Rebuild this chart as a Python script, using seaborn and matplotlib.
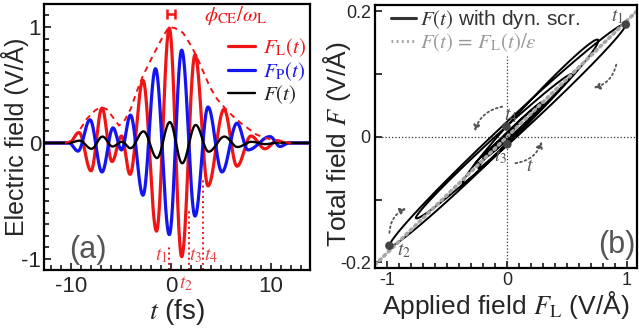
import numpy as np
import pandas as pd
import matplotlib
matplotlib.use('Agg')
import matplotlib.pyplot as plt
import seaborn as sns
from matplotlib.ticker import MultipleLocator
from matplotlib.lines import Line2D

# ---- data: extrema of each field (time in fs, field in V/Å)
t_laser = [-12.7, -10.2, -9.2, -8.0, -6.9, -5.9, -4.95, -4.1, -2.8, -1.45, -0.17,
           1.07, 2.4, 3.7, 5.3, 6.6, 8.0, 9.4, 10.6, 11.5, 13.9]
f_laser = [0, 0, 0.09, -0.24, 0.30, -0.16, 0.06, -0.27, 0.54, -0.76, 0.99,
           -0.98, 0.76, -0.37, 0.29, -0.20, 0.06, -0.05, 0.02, 0, 0]

t_pol = [-12.7, -10.2, -9.3, -8.1, -6.9, -5.8, -4.95, -4.05, -2.8, -1.55, -0.17,
         1.07, 2.4, 3.7, 5.1, 6.6, 7.7, 9.9, 10.9, 11.8, 13.9]
f_pol = [0, 0, -0.07, 0.20, -0.25, 0.13, -0.06, 0.24, -0.45, 0.64, -0.79,
         0.80, -0.63, 0.31, -0.25, 0.17, -0.06, 0.055, -0.03, 0, 0]

t_tot = [-12.7, -10.2, -9.15, -7.95, -6.85, -5.85, -4.9, -4.05, -2.75, -1.4, -0.12,
         1.12, 2.47, 3.76, 5.35, 6.65, 8.05, 9.45, 10.65, 11.6, 13.9]
f_tot = [0, 0, 0.02, -0.05, 0.055, -0.03, 0.01, -0.045, 0.10, -0.13, 0.18,
         -0.175, 0.155, -0.075, 0.055, -0.035, 0.01, -0.01, 0.004, 0, 0]

# envelope (dashed)
t_env = [-10.6, -10.2, -9.8, -9.0, -8.4, -7.6, -7.0, -6.4, -5.8, -5.2, -4.6, -4.0,
         -3.4, -2.8, -2.0, -1.4, -0.8, -0.2, 0.4, 1.2, 2.0, 2.6, 3.2, 3.9, 4.6,
         5.4, 6.2, 7.0, 7.8, 8.6, 9.4, 10.2, 11.0, 12.0]
f_env = [0, 0.01, 0.04, 0.13, 0.21, 0.28, 0.31, 0.29, 0.22, 0.15, 0.20, 0.30,
         0.45, 0.58, 0.72, 0.82, 0.92, 1.0, 0.99, 0.95, 0.84, 0.74, 0.62, 0.48,
         0.38, 0.30, 0.23, 0.17, 0.12, 0.07, 0.045, 0.025, 0.01, 0]

t_marks = [-0.17, 1.07, 1.79, 3.2]       # t1..t4
eps = 5.4                                 # static screening, F = F_L / eps

red = '#f01414'
blue = '#1414f0'


def through_extrema(t_ext, v_ext, t):
    # half-cosine strokes between successive extrema
    t_ext = np.asarray(t_ext, float)
    v_ext = np.asarray(v_ext, float)
    i = np.clip(np.searchsorted(t_ext, t, side='right') - 1, 0, len(t_ext) - 2)
    p = (t - t_ext[i]) / (t_ext[i + 1] - t_ext[i])
    v0, v1 = v_ext[i], v_ext[i + 1]
    return (v0 + v1) / 2 + (v0 - v1) / 2 * np.cos(np.pi * p)


grid = np.linspace(-12.7, 13.9, 3000)
df = pd.DataFrame({
    't': grid,
    'FL': through_extrema(t_laser, f_laser, grid),
    'FP': through_extrema(t_pol, f_pol, grid),
    'F': through_extrema(t_tot, f_tot, grid),
})
env = pd.DataFrame({'t': t_env, 'E': f_env})

sns.set_theme(style='ticks')
plt.rcParams['font.family'] = ['Liberation Sans', 'DejaVu Sans']
plt.rcParams['mathtext.fontset'] = 'stix'
plt.rcParams['axes.unicode_minus'] = False
plt.rcParams['axes.linewidth'] = 1.6
plt.rcParams['axes.edgecolor'] = 'black'

fig = plt.figure(figsize=(6.39, 3.31), dpi=100)
ax1 = fig.add_axes([44 / 639, 61 / 331, 266 / 639, 266 / 331])
ax2 = fig.add_axes([375 / 639, 63 / 331, 262 / 639, 263 / 331])

# ================= panel (a)
sns.lineplot(data=df, x='t', y='FL', ax=ax1, color=red, lw=2.3, sort=False,
             estimator=None, label=r'$F_{\rm L}(t)$')
sns.lineplot(data=df, x='t', y='FP', ax=ax1, color=blue, lw=2.3, sort=False,
             estimator=None, label=r'$F_{\rm P}(t)$')
sns.lineplot(data=df, x='t', y='F', ax=ax1, color='black', lw=1.7, sort=False,
             estimator=None, label=r'$F(t)$')
sns.lineplot(data=env, x='t', y='E', ax=ax1, color=red, lw=1.4, sort=False,
             estimator=None, legend=False)
ax1.lines[-1].set_linestyle((0, (3, 2.5)))

ax1.set_xlim(-12.7, 13.9)
ax1.set_ylim(-1.095, 1.198)
ax1.xaxis.set_major_locator(MultipleLocator(10))
ax1.xaxis.set_minor_locator(MultipleLocator(1))
ax1.yaxis.set_major_locator(MultipleLocator(1))
ax1.yaxis.set_minor_locator(MultipleLocator(0.1))
ax1.tick_params(which='both', direction='in', width=1.3, labelsize=16, pad=4)
ax1.tick_params(axis='y', pad=2)
ax1.tick_params(which='major', length=5)
ax1.tick_params(which='minor', length=3.5)
ax1.set_xlabel(r'$t$ (fs)', fontsize=20, labelpad=0)
ax1.set_ylabel('Electric field (V/Å)', fontsize=18)
ax1.yaxis.set_label_coords(-0.058, 0.5)

# t1, t3, t4 markers
line_tops = [-0.88, -0.58, -0.30]
ax1.vlines([t_marks[0], t_marks[2], t_marks[3]], -1.095, line_tops,
           colors=red, linestyles=':', lw=1.4)
lab_kw = dict(color='#e04545', fontsize=14, ha='center', va='center')
ax1.text(t_marks[0] - 0.8, -0.97, r'$t_1$', **lab_kw)
ax1.text(t_marks[1] + 0.4, -1.21, r'$t_2$', clip_on=False, **lab_kw)
ax1.text(t_marks[2] + 0.7, -0.97, r'$t_3$', **lab_kw)
ax1.text(t_marks[3] + 0.8, -0.97, r'$t_4$', **lab_kw)

# carrier-envelope phase shift
ax1.errorbar(-0.02, 1.11, xerr=0.38, color=red, lw=1.8, capsize=3.5, capthick=1.8)
ax1.text(3.3, 1.10, r'$\phi_{\rm CE}/\omega_{\rm L}$', color=red, fontsize=15,
         ha='left', va='center')

leg1 = ax1.legend(loc='upper left', bbox_to_anchor=(0.66, 0.91), frameon=False,
                  fontsize=15, handlelength=1.3, handletextpad=0.4,
                  labelspacing=0.05, borderaxespad=0)
for txt, c in zip(leg1.get_texts(), [red, blue, '#222222']):
    txt.set_color(c)

ax1.text(0.095, 0.02, '(a)', transform=ax1.transAxes, fontsize=22,
         color='#555555', ha='left', va='bottom')

# ================= panel (b)
sns.lineplot(data=df, x='FL', y='F', ax=ax2, color='black', lw=1.4, sort=False,
             estimator=None)
fl_line = np.array([-1.1, 1.1])
sns.lineplot(x=fl_line, y=fl_line / eps, ax=ax2, color='#a6a6a6', lw=2.6,
             sort=False, estimator=None)
ax2.lines[-1].set_linestyle((0, (0.6, 1.1)))
ax2.lines[-1].set_dash_capstyle('round')

ax2.axhline(0, color='#333333', lw=0.9, ls=':')
ax2.vlines(0, -0.21, 0.128, colors='#333333', lw=0.9, linestyles=':')

mark_fl = np.interp(t_marks, df['t'], df['FL'])
mark_f = np.interp(t_marks, df['t'], df['F'])
sns.scatterplot(x=mark_fl, y=mark_f, ax=ax2, color='#444444', s=38,
                edgecolor='none', zorder=5)

glab = dict(color='#555555', fontsize=14, ha='center', va='center')
ax2.text(mark_fl[0] - 0.07, mark_f[0] + 0.012, r'$t_1$', **glab)
ax2.text(mark_fl[1] + 0.12, mark_f[1] - 0.008, r'$t_2$', **glab)
ax2.text(mark_fl[2] - 0.06, mark_f[2] - 0.02, r'$t_3$', **glab)
ax2.text(mark_fl[3] + 0.04, mark_f[3] + 0.018, r'$t_4$', **glab)
ax2.text(0.19, -0.047, r'$t$', **glab)

arr = dict(arrowstyle='-|>', ls=':', lw=1.3, color='#555555',
           shrinkA=0, shrinkB=0, mutation_scale=9)
ax2.annotate('', xy=(0.72, 0.078), xytext=(0.91, 0.115),
             arrowprops=dict(arr, connectionstyle='arc3,rad=-0.3'))
ax2.annotate('', xy=(-0.27, 0.0085), xytext=(-0.04, 0.048),
             arrowprops=dict(arr, connectionstyle='arc3,rad=0.3'))
ax2.annotate('', xy=(0.29, -0.0075), xytext=(0.07, -0.042),
             arrowprops=dict(arr, connectionstyle='arc3,rad=0.3'))
ax2.annotate('', xy=(-0.84, -0.114), xytext=(-0.98, -0.153),
             arrowprops=dict(arr, connectionstyle='arc3,rad=-0.3'))

ax2.set_xlim(-1.1, 1.083)
ax2.set_ylim(-0.209, 0.21)
ax2.set_xticks([-1, 0, 1])
ax2.set_xticklabels(['-1', '0', '1'])
ax2.xaxis.set_minor_locator(MultipleLocator(0.1))
ax2.set_yticks([-0.2, -0.1, 0, 0.1, 0.2])
ax2.set_yticklabels(['-0.2', '', '0', '', '0.2'])
ax2.tick_params(which='both', direction='in', width=1.3, labelsize=13, pad=3)
ax2.tick_params(which='major', length=5)
ax2.tick_params(which='minor', length=3.5)
ax2.set_xlabel(r'Applied field $F_{\rm L}$ (V/Å)', fontsize=19, labelpad=0)
ax2.set_ylabel(r'Total field $F$ (V/Å)', fontsize=19)
ax2.yaxis.set_label_coords(-0.085, 0.47)

handles = [Line2D([], [], color='#333333', lw=2.2),
           Line2D([], [], color='#a6a6a6', lw=2.2, ls=(0, (0.6, 1.1)))]
leg2 = ax2.legend(handles, [r'$F(t)$ with dyn. scr.',
                            r'$F(t)\,=\,F_{\rm L}(t)/\varepsilon$'],
                  loc='upper left', bbox_to_anchor=(0.03, 1.02), frameon=False,
                  fontsize=15, handlelength=1.2, handletextpad=0.2,
                  labelspacing=0.0, borderaxespad=0)
for txt, c in zip(leg2.get_texts(), ['#333333', '#999999']):
    txt.set_color(c)

ax2.text(0.85, 0.03, '(b)', transform=ax2.transAxes, fontsize=22,
         color='#555555', ha='left', va='bottom')

fig.savefig('out.png', dpi=100)
